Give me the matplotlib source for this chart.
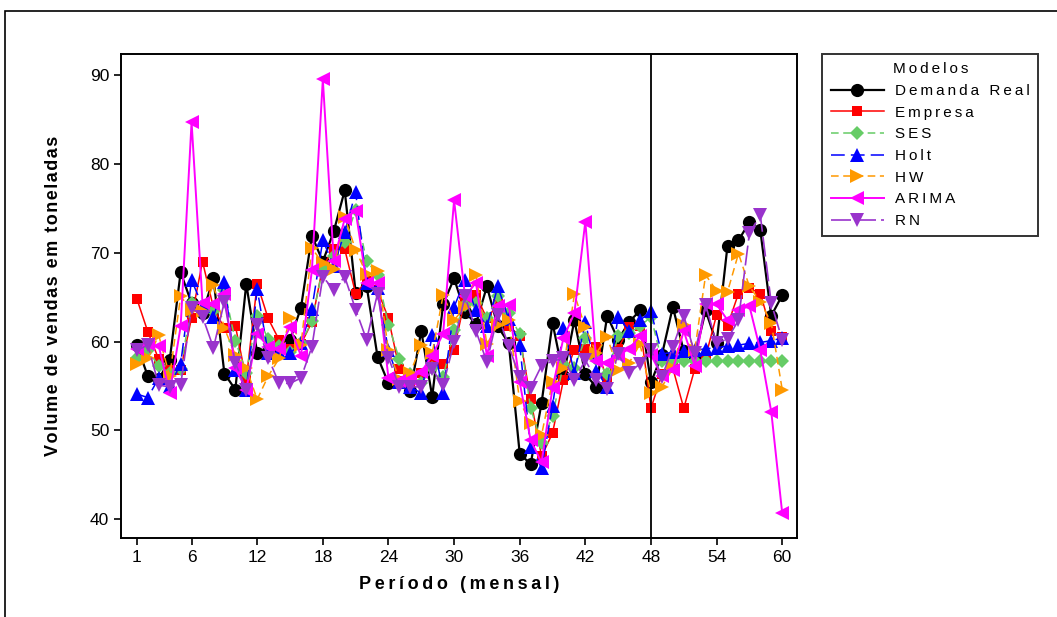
import matplotlib
matplotlib.use("Agg")
import matplotlib.pyplot as plt
from matplotlib.patches import Rectangle

# Dados do gráfico
periods = list(range(1, 61))

real = [59.6, 56.1, 55.8, 57.9, 67.8, 64.3, 63.2, 67.1, 56.4, 54.6,
        66.5, 58.7, 58.9, 59.3, 60.2, 63.8, 71.9, 69.0, 72.4, 77.0,
        65.5, 66.3, 58.3, 55.3, 55.5, 54.4, 61.2, 53.8, 64.2, 67.1,
        63.3, 62.0, 66.2, 61.7, 59.8, 47.4, 46.2, 53.1, 62.1, 56.1,
        62.4, 56.3, 54.9, 62.9, 60.2, 62.2, 63.5, 55.4, 58.5, 63.9,
        58.9, 58.3, 63.5, 59.8, 70.8, 71.4, 73.4, 72.5, 62.9, 65.2]

empresa = [64.8, 61.1, 58.0, 56.8, 56.8, 62.7, 69.0, 63.8, 61.5, 61.8,
           55.7, 66.5, 62.6, 60.2, 59.2, 59.7, 62.2, 68.5, 70.4, 70.4,
           65.4, 66.8, 65.8, 62.6, 56.9, 55.5, 56.5, 57.9, 57.5, 59.1,
           64.8, 65.2, 62.6, 64.2, 61.8, 60.6, 53.5, 47.1, 49.7, 55.7,
           59.1, 59.2, 59.4, 55.7, 59.2, 61.6, 61.8, 52.5, 56.3, 57.0,
           52.5, 56.9, 58.3, 63.0, 61.8, 65.4, 66.0, 65.4, 61.2, 60.5]

ses = [58.1, 59.1, 57.2, 56.5, 56.9, 64.3, 63.6, 63.4, 65.8, 60.1,
       56.5, 62.9, 60.3, 59.5, 58.8, 59.8, 62.3, 68.3, 69.6, 71.2,
       74.8, 69.1, 67.5, 61.9, 58.0, 56.3, 55.3, 57.0, 56.0, 61.3,
       64.1, 64.3, 62.6, 65.1, 63.2, 60.8, 52.5, 48.6, 51.6, 57.5,
       57.0, 60.4, 58.0, 56.3, 60.6, 61.0, 61.7, 62.8, 57.8, 57.8,
       57.8, 57.8, 57.8, 57.8, 57.8, 57.8, 57.8, 57.8, 57.8, 57.8]

holt = [54.1, 53.7, 55.9, 55.0, 57.5, 66.9, 64.0, 62.8, 66.7, 56.8,
        54.6, 65.9, 58.7, 58.8, 58.7, 59.8, 63.7, 71.4, 68.5, 72.3,
        76.8, 66.6, 66.0, 59.0, 55.5, 54.9, 54.2, 60.7, 54.2, 63.9,
        66.9, 63.5, 61.7, 66.2, 62.5, 59.6, 48.1, 45.8, 52.7, 61.5,
        56.5, 62.2, 56.7, 54.9, 62.8, 61.2, 62.4, 63.4, 58.6, 58.8,
        58.9, 59.0, 59.2, 59.3, 59.5, 59.6, 59.8, 59.9, 60.1, 60.4]

hw = [57.5, 58.1, 60.7, 56.1, 65.1, 63.5, 63.4, 66.4, 61.5, 58.5,
      57.0, 53.5, 56.1, 58.1, 62.6, 59.6, 70.5, 68.8, 68.2, 74.0,
      70.3, 67.6, 67.9, 59.0, 55.8, 56.5, 59.6, 58.7, 65.2, 62.4,
      63.9, 67.5, 59.7, 61.9, 62.4, 53.3, 50.8, 49.5, 55.5, 57.0,
      65.3, 61.6, 58.7, 60.5, 56.8, 57.6, 59.7, 54.2, 54.9, 57.0,
      61.9, 59.0, 67.5, 65.7, 65.6, 69.9, 66.2, 64.5, 62.1, 54.6]

arima = [59.2, 59.7, 59.5, 54.2, 61.7, 84.7, 64.3, 64.2, 65.3, 57.0,
         54.6, 60.9, 59.4, 59.2, 61.6, 58.4, 68.0, 89.5, 69.1, 73.8,
         74.7, 66.6, 66.6, 55.9, 55.6, 55.8, 56.6, 58.4, 60.9, 75.9,
         65.1, 66.6, 58.4, 64.0, 64.1, 55.4, 48.9, 46.4, 54.8, 60.4,
         63.2, 73.5, 57.8, 57.6, 58.4, 59.2, 60.6, 58.5, 56.1, 56.8,
         61.2, 57.3, 64.2, 64.2, 62.4, 63.5, 64.0, 59.0, 52.1, 40.7]

rn = [59.0, 59.6, 55.1, 54.9, 55.1, 63.8, 62.8, 59.3, 64.5, 57.6,
      54.6, 61.9, 58.2, 55.3, 55.3, 55.9, 59.4, 67.3, 65.8, 67.3,
      63.6, 60.2, 65.4, 58.2, 54.9, 54.9, 54.9, 56.9, 55.1, 59.9,
      65.1, 61.2, 57.7, 63.0, 59.5, 56.0, 54.8, 57.3, 57.8, 58.1,
      55.7, 57.9, 55.7, 54.7, 58.6, 56.5, 57.5, 59.1, 56.0, 59.4,
      62.9, 58.7, 64.1, 59.8, 60.3, 62.4, 72.2, 74.2, 64.3, 60.2]

x_ticks = [1, 6, 12, 18, 24, 30, 36, 42, 48, 54, 60]
y_ticks = [40, 50, 60, 70, 80, 90]

plt.rcParams["font.family"] = ["Liberation Sans", "DejaVu Sans"]


# Espaçamento entre letras (como no original)
def spaced(text, gap="\u2009"):
    return gap.join(text)


# Estilo de cada série: (nome, dados, cor, marcador, tamanho, traço, largura)
series = [
    ("Demanda Real", real, "black", "o", 9.5, "-", 1.6),
    ("Empresa", empresa, "#FF0000", "s", 7.5, "-", 1.1),
    ("SES", ses, "#66CC66", "D", 7.5, (0, (5, 3)), 1.1),
    ("Holt", holt, "#0000FF", "^", 9.5, (0, (9, 4)), 1.1),
    ("HW", hw, "#FF9900", ">", 9.5, (0, (5, 3)), 1.1),
    ("ARIMA", arima, "#FF00FF", "<", 9.5, "-", 1.4),
    ("RN", rn, "#9933CC", "v", 9.5, (0, (12, 3)), 1.2),
]

fig = plt.figure(figsize=(10.57, 6.17), dpi=100)
ax = fig.add_axes([0.1145, 0.128, 0.6395, 0.7845])

for name, vals, colour, marker, ms, ls, lw in series:
    ax.plot(periods, vals, color=colour, marker=marker, markersize=ms,
            linestyle=ls, linewidth=lw, markeredgewidth=0, label=spaced(name))

ax.axvline(48, color="black", linewidth=1.3, zorder=5)

ax.set_xlim(-0.45, 61.35)
ax.set_ylim(37.9, 92.35)
ax.set_xticks(x_ticks)
ax.set_yticks(y_ticks)
ax.tick_params(axis="both", labelsize=12.5, length=5, width=1.2, direction="out")
for s in ax.spines.values():
    s.set_linewidth(1.4)

ax.set_xlabel(spaced("Período (mensal)"), fontsize=13, fontweight="bold", labelpad=8)
ax.set_ylabel(spaced("Volume de vendas em toneladas", "\u200a"), fontsize=13,
              fontweight="bold", labelpad=20)

# Legenda
leg = fig.legend(loc="upper left", bbox_to_anchor=(0.778, 0.9125), title=spaced("Modelos"),
                 fontsize=11, title_fontsize=11, frameon=True, fancybox=False,
                 edgecolor="black", handlelength=3.5, labelspacing=0.5,
                 borderpad=0.55, handletextpad=0.7, borderaxespad=0)
leg.get_frame().set_linewidth(1.4)

# Moldura externa
fig.patches.append(Rectangle((5 / 1057, -0.1), 1.2, 1.0 - 11 / 617 + 0.1,
                             transform=fig.transFigure, fill=False,
                             edgecolor="black", linewidth=1.2))

fig.savefig("out.png", dpi=100)
